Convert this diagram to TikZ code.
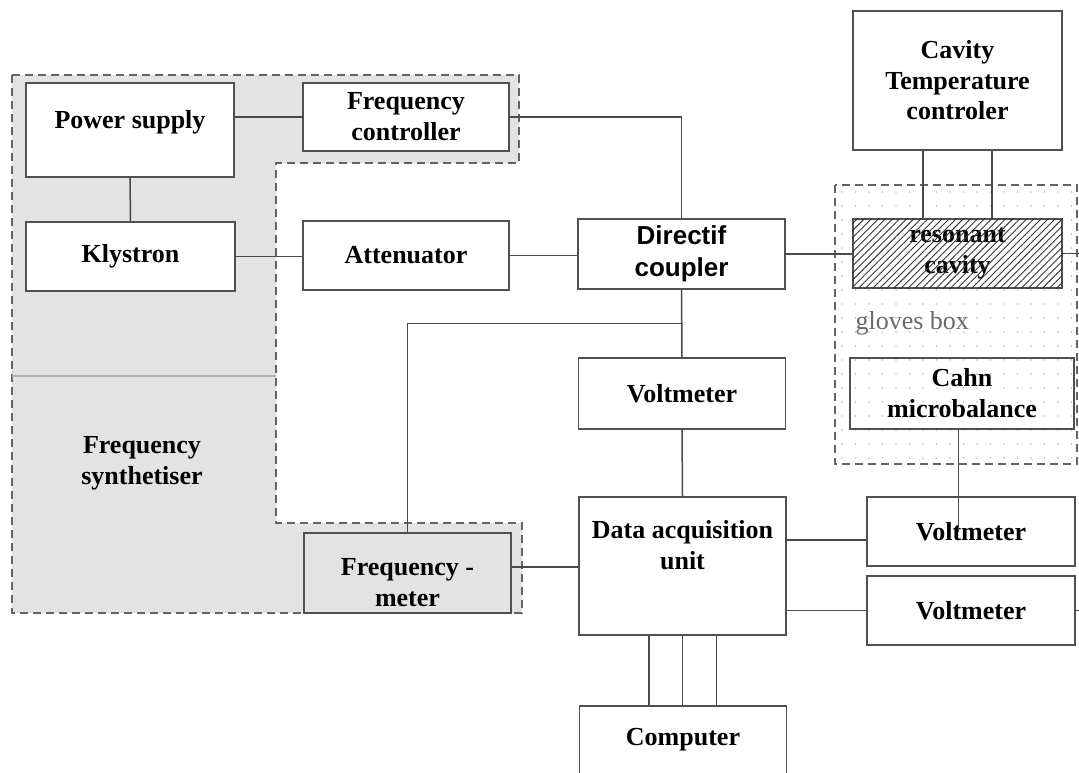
\documentclass[tikz,border=0pt]{standalone}
\usepackage{fontspec}
\setmainfont{Liberation Serif}
\newfontfamily\sansface{Liberation Sans}
\usetikzlibrary{calc,patterns.meta}
\definecolor{frame}{HTML}{505050}
\definecolor{wiregray}{HTML}{4A4A4A}
\definecolor{dashgray}{HTML}{646464}
\definecolor{synthfill}{HTML}{E3E3E3}
\definecolor{dotgray}{HTML}{BEBEBE}
\definecolor{tagtext}{HTML}{6A6A6A}
\tikzset{
  unitbox/.style={
    draw=frame,
    line width=1.6pt,
    fill=white,
    inner sep=0pt,
    minimum width=207pt,
    minimum height=69pt,
    align=center,
    font=\fontsize{26}{31}\selectfont\bfseries
  },
  zonedash/.style={draw=dashgray,line width=1.8pt,dash pattern=on 8pt off 5pt},
  divider/.style={draw=gray!60,line width=1.2pt},
  wire/.style={draw=wiregray,line width=1.5pt}
}
\begin{document}
\begin{tikzpicture}[x=1pt,y=-1pt]
\path[fill=white,use as bounding box] (0,0) rectangle (1079,772);
\path[zonedash,fill=synthfill] (12,75) -| (519,163) -| (276,523) -| (522,613) -| (12,75) -- cycle;
\begin{scope}
  \clip (835,185) rectangle (1077,464);
  \foreach \i in {0,...,17}
    \foreach \j in {0,...,19}
      \fill[dotgray] (842+13.5*\i,192+14*\j) circle (0.9pt);
\end{scope}
\draw[zonedash] (835,185) rectangle (1077,464);
\draw[divider] (12,376) -- (276,376);
\coordinate (rim) at (1079,0);

\node[unitbox,minimum width=208pt,minimum height=94pt] (psu) at (130,130) {Power supply\rule[-21pt]{0pt}{0pt}};
\node[unitbox,minimum width=209pt] (kly) at (130.5,256.5) {Klystron};
\node[unitbox,minimum width=206pt,minimum height=68pt] (fc) at (406,117) {Frequency\\controller};
\node[unitbox,minimum width=206pt] (att) at (406,255.5) {Attenuator};
\node[unitbox,minimum height=80pt,fill=none] (fm) at (407.5,573) {\rule{0pt}{37pt}Frequency -\\meter};
\node[font=\fontsize{26}{31}\selectfont\bfseries,align=center] (synthlabel) at (142,463) {Frequency\\synthetiser};
\node[unitbox,minimum height=70pt,font=\fontsize{26}{32}\selectfont\sansface\bfseries] (dc) at (681.5,254) {Directif\\coupler};
\node[unitbox,minimum height=71pt] (vmc) at (682,393.5) {Voltmeter};
\node[unitbox,minimum height=138pt] (dau) at (682.5,566) {Data acquisition\\unit\rule[-42pt]{0pt}{0pt}};
\node[unitbox,minimum height=84pt] (comp) at (683,748) {Computer\rule[-23pt]{0pt}{0pt}};
\node[unitbox,minimum width=209pt,minimum height=139pt,font=\fontsize{26}{30.5}\selectfont\bfseries] (ctc) at (957.5,80.5) {Cavity\\Temperature\\controler};
\node[unitbox,minimum width=209pt] (cav) at (957.5,253.5) {resonant\\cavity};
\fill[pattern={Lines[angle=45,distance=5pt,line width=0.9pt]},pattern color=black!80] (cav.south west) rectangle (cav.north east);
\node[anchor=west,text=tagtext,font=\fontsize{26}{31}\selectfont] (glovestag) at (852,323) {gloves box};
\node[unitbox,minimum width=224pt,minimum height=71pt,fill=none] (cahn) at (962,393.5) {Cahn\\microbalance};
\node[unitbox,minimum width=208pt] (vma) at (971,531.5) {Voltmeter};
\node[unitbox,minimum width=208pt] (vmb) at (971,610.5) {Voltmeter};

\coordinate (tap) at ($(dc.south)!0.5!(vmc.north)$);
\draw[wire] (fc.west -| psu.east) -- (fc.west);
\draw[wire] (psu.south) -- (kly.north);
\draw[wire] (kly.east) -- (kly.east -| att.west);
\draw[wire] (att.east) -- (att.east -| dc.west);
\draw[wire] (fc.east) -| (dc.north);
\draw[wire] (dc.east) -- (dc.east -| cav.west);
\draw[wire] (cav.east) -- (cav.east -| rim);
\draw[wire] ([xshift=-34.5pt]ctc.south) -- ([xshift=-34.5pt]cav.north);
\draw[wire] ([xshift=34.5pt]ctc.south) -- ([xshift=34.5pt]cav.north);
\draw[wire] (dc.south) -- (vmc.north);
\draw[wire] (fm.north) |- (tap);
\draw[wire] (vmc.south) -- (dau.north);
\draw[wire] ([yshift=6pt]fm.east) -- ([yshift=6pt]fm.east -| dau.west);
\draw[wire] ([yshift=-8.5pt]vma.west) -- ([yshift=-8.5pt]vma.west -| dau.east);
\draw[wire] (vmb.west) -- (vmb.west -| dau.east);
\draw[wire] (vmb.east) -- (vmb.east -| rim);
\draw[wire] ([xshift=-3.5pt]cahn.south) -- ([xshift=-3.5pt]cahn.south |- vma.center);
\foreach \dx in {-33.5,0,34}
  \draw[wire] ([xshift=\dx pt]dau.south) -- ([xshift=\dx pt]dau.south |- comp.north);
\end{tikzpicture}
\end{document}
